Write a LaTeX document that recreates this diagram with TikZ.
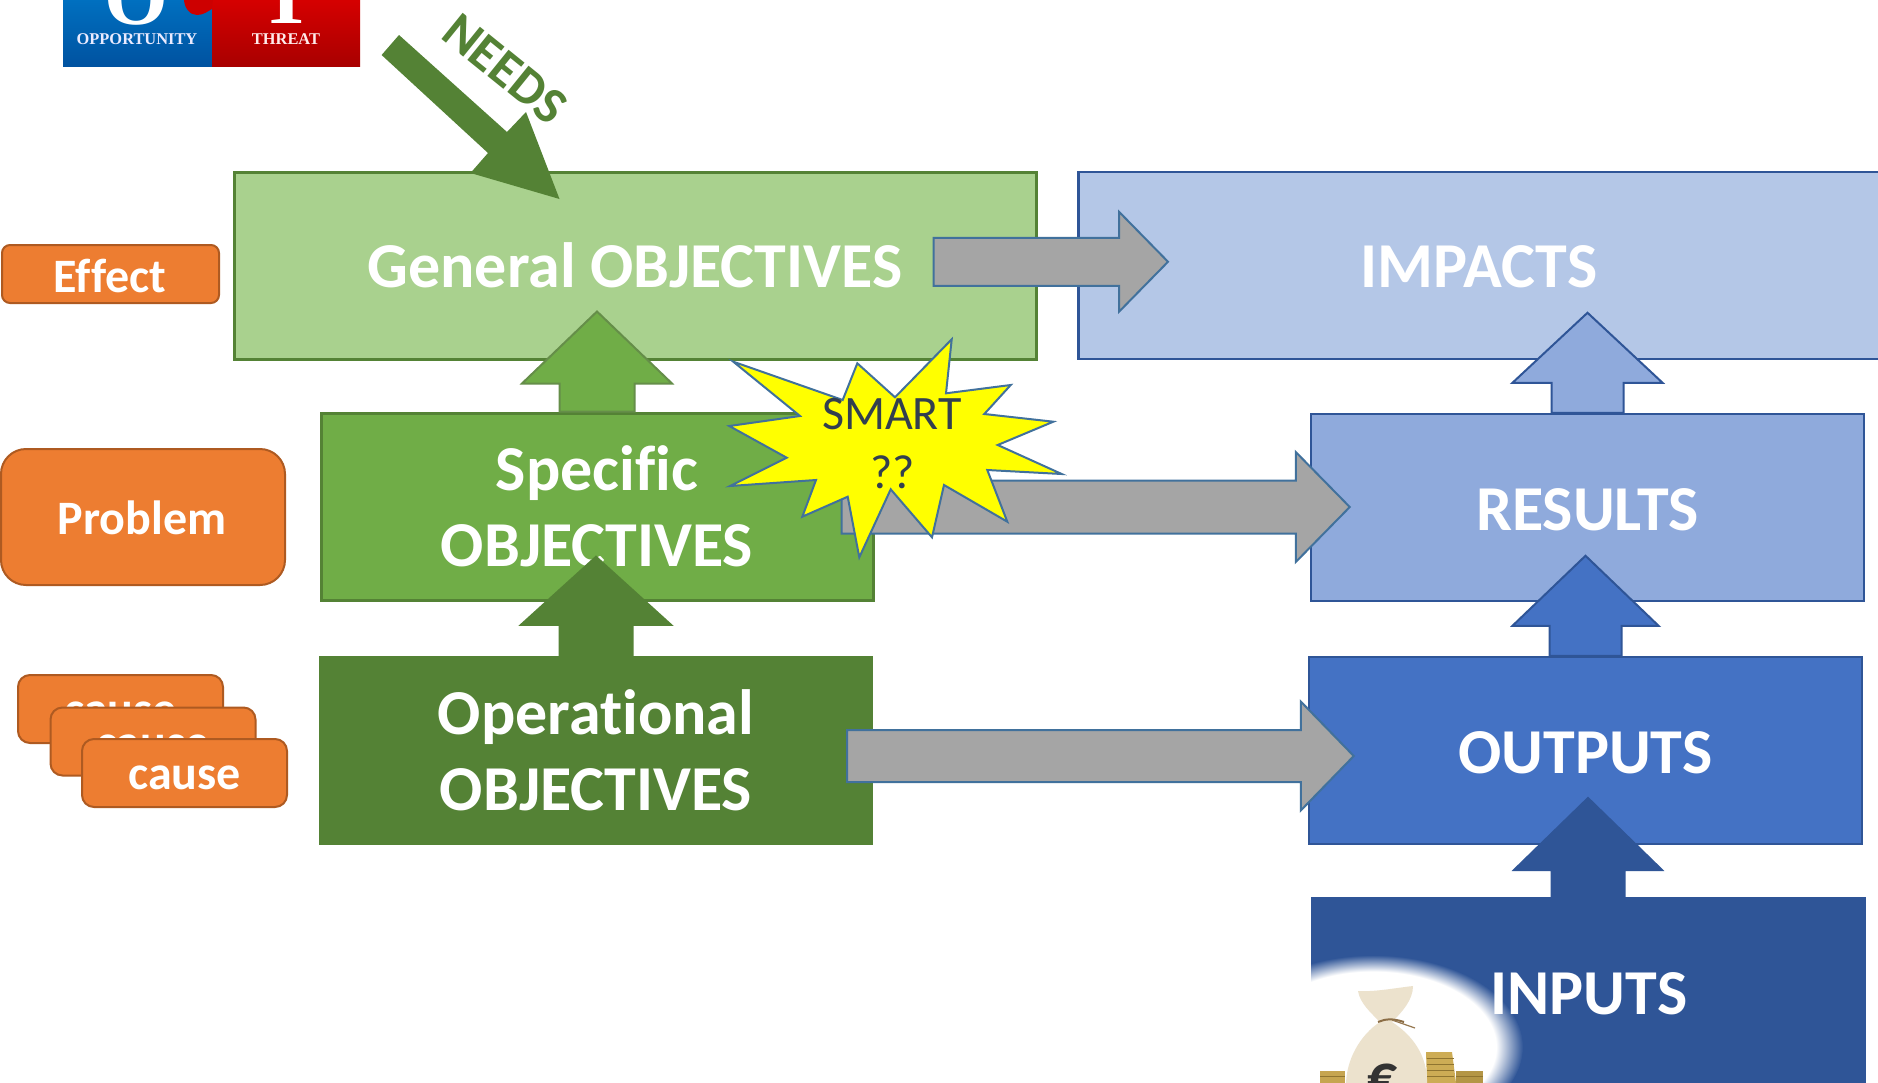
\documentclass[tikz,border=0pt]{standalone}
\usepackage{fontspec}
\setmainfont{Carlito}[Ligatures=CommonOff]
\newfontfamily\logofont{Liberation Serif}
\usetikzlibrary{calc}
\definecolor{genfill}{HTML}{A9D18E}
\definecolor{speck}{HTML}{70AD47}
\definecolor{dgreen}{HTML}{548235}
\definecolor{impfill}{HTML}{B4C7E7}
\definecolor{resfill}{HTML}{8FAADC}
\definecolor{outfill}{HTML}{4472C4}
\definecolor{dblue}{HTML}{2F5597}
\definecolor{orfill}{HTML}{ED7D31}
\definecolor{ordraw}{HTML}{AE5A21}
\definecolor{gfill}{HTML}{A5A5A5}
\definecolor{gline}{HTML}{41719C}
\definecolor{smarttxt}{HTML}{323F4F}
\definecolor{starfill}{HTML}{FFFF00}
\definecolor{lbluet}{HTML}{0070C0}
\definecolor{lblueb}{HTML}{0052A0}
\definecolor{lredt}{HTML}{D60000}
\definecolor{lredb}{HTML}{A80000}
\definecolor{ltab}{HTML}{CD0000}
\definecolor{coina}{HTML}{C6A550}
\definecolor{coinb}{HTML}{CDAC55}
\definecolor{coinc}{HTML}{B49646}
\definecolor{coinl}{HTML}{8F7430}
\definecolor{bagc}{HTML}{ECE2CD}
\definecolor{tiea}{HTML}{8C6E46}
\definecolor{tieb}{HTML}{967850}
\pgfdeclareradialshading{glowshade}{\pgfpoint{0bp}{0bp}}{color(0bp)=(white); color(20.5bp)=(white); color(25bp)=(dblue); color(100bp)=(dblue)}
\tikzset{
  bigtxt/.style={text=white,font=\fontsize{64}{76}\selectfont\bfseries,align=center},
  boxg/.style={draw=dgreen,line width=3pt,inner sep=0pt},
  boxb/.style={draw=dblue,line width=2.5pt,inner sep=0pt},
  orbox/.style={draw=ordraw,fill=orfill,line width=2pt,rounded corners=#1,inner sep=0pt,text=white,font=\fontsize{48}{56}\selectfont\bfseries},
  causebox/.style={orbox=12pt,text height=40pt,text depth=7pt},
  ortxt/.style={text=white,font=\fontsize{48}{56}\selectfont\bfseries,inner sep=0pt},
  smartxt/.style={inner sep=0pt,text=smarttxt,font=\fontsize{48}{56}\selectfont},
  logobig/.style={anchor=base,inner sep=0pt,text=white,font=\logofont\fontsize{82}{82}\selectfont\bfseries},
  logosmall/.style={inner sep=0pt,font=\logofont\fontsize{16.4}{18}\selectfont\bfseries},
  upa/.style={line width=2pt,line join=miter},
  grayarrow/.style={draw=gline,fill=gfill,line width=2pt,line join=miter},
}
% style, base coordinate, length, head length, half shaft, half head
\newcommand{\upblock}[6]{\draw[upa,#1] let \p1=(#2) in
  ({\x1-#5pt},\y1) -- ({\x1-#5pt},{\y1+#3pt-#4pt}) -- ({\x1-#6pt},{\y1+#3pt-#4pt}) -- (\x1,{\y1+#3pt})
  -- ({\x1+#6pt},{\y1+#3pt-#4pt}) -- ({\x1+#5pt},{\y1+#3pt-#4pt}) -- ({\x1+#5pt},\y1) -- cycle;}
% start coordinate, tip coordinate, half shaft, half head, head length
\newcommand{\rightblock}[5]{\draw[grayarrow] let \p1=(#1), \p2=(#2) in
  (\x1,{\y2+#3pt}) -- ({\x2-#5pt},{\y2+#3pt}) -- ({\x2-#5pt},{\y2+#4pt}) -- (\x2,\y2)
  -- ({\x2-#5pt},{\y2-#4pt}) -- ({\x2-#5pt},{\y2-#3pt}) -- (\x1,{\y2-#3pt}) -- cycle;}
\begin{document}
\begin{tikzpicture}[x=1pt,y=-1pt]
\useasboundingbox (0,0) rectangle (1878,1082);
\clip (0,0) rectangle (1878,1082);
\fill[white] (0,0) rectangle (1878,1082);
% logo
\shade[top color=lbluet,bottom color=lblueb] (63,-1) rectangle (212,66.5);
\shade[top color=lredt,bottom color=lredb] (212,-1) rectangle (360,66.5);
\fill[ltab] (184,-1) .. controls (184,8) and (190,15) .. (197,15) .. controls (204,15) and (208,11) .. (212,9) -- (213,-1) -- cycle;
\node[logobig] (logoO) at (136,24) {O};
\node[logobig] (logoT) at (287,23) {T};
\node[logosmall,text=white!92!blue] (opp) at (137,39) {OPPORTUNITY};
\node[logosmall,text=white!92!red] (thr) at (286,39) {THREAT};
% left column
\node[orbox=8pt,minimum width=217pt,minimum height=58pt] (effect) at (110.5,274) {};
\node[ortxt] (effectt) at (110,276) {Effect};
\node[orbox=25pt,minimum width=284pt,minimum height=136pt] (problem) at (143,517) {};
\node[ortxt] (problemt) at (142,518) {Problem};
\node[causebox,minimum width=205pt,minimum height=68pt] (c1) at (120.5,709) {cause};
\node[causebox,minimum width=205pt,minimum height=68pt] (c2) at (153,741.5) {cause};
\node[causebox,minimum width=205pt,minimum height=68pt] (c3) at (184.5,773) {cause};
% objective boxes
\node[boxg,fill=genfill,minimum width=802pt,minimum height=187pt,bigtxt,text height=44.2pt,text depth=0pt] (general) at (635,265.5) {General OBJECTIVES};
\node[boxb,fill=impfill,anchor=north west,minimum width=900pt,minimum height=187pt] (impacts) at (1077,170.5) {};
\node[bigtxt,inner sep=0pt] (impactst) at (1479,266.5) {IMPACTS};
\node[boxg,fill=speck,minimum width=552pt,minimum height=187pt,bigtxt] (specific) at (597,506.5) {Specific\\OBJECTIVES};
\node[fill=dgreen,inner sep=0pt,minimum width=554pt,minimum height=189pt,bigtxt] (operational) at (596,750.5) {Operational\\OBJECTIVES};
\node[boxb,fill=resfill,minimum width=553pt,minimum height=187pt,bigtxt,text height=46pt,text depth=0pt] (results) at (1587.5,507.5) {RESULTS};
\node[boxb,fill=outfill,minimum width=553pt,minimum height=187pt,bigtxt,text height=46pt,text depth=0pt] (outputs) at (1585.5,750.5) {OUTPUTS};
\node[fill=dblue,inner sep=0pt,anchor=north west,minimum width=555pt,minimum height=220pt] (inputs) at (1311,897) {};
% glow and money bag
\begin{scope}
\clip (1311,897) rectangle (1878,1082);
\shade[shading=glowshade] (1373,1047) ellipse [x radius=150pt,y radius=92pt];
\end{scope}
\fill[coina] (1320,1071) rectangle (1345,1083);
\fill[coinb] (1426,1052) -- (1452,1052) -- (1456,1083) -- (1427,1083) -- cycle;
\fill[coinc] (1456,1071) rectangle (1483,1083);
\foreach \yy in {1058,1064,1070,1076}{\draw[coinl,line width=.8pt] (1427,\yy) -- (1454,\yy);}
\foreach \yy in {1076}{\draw[coinl,line width=.8pt] (1320,\yy) -- (1345,\yy);\draw[coinl,line width=.8pt] (1456,\yy) -- (1483,\yy);}
\fill[bagc] (1358,991) .. controls (1375,992) and (1395,988) .. (1413,986) .. controls (1413,1000) and (1402,1012) .. (1392,1022)
  .. controls (1412,1035) and (1428,1055) .. (1427,1085) -- (1346,1085) .. controls (1346,1060) and (1360,1035) .. (1380,1022) .. controls (1370,1012) and (1360,1003) .. (1358,991) -- cycle;
\draw[tiea,line width=2pt] (1378,1022) .. controls (1385,1019) and (1392,1018) .. (1404,1022);
\draw[tieb,line width=1.2pt] (1392,1020) -- (1415,1028);
\node[inner sep=0pt,text=black!80,font=\fontsize{60}{60}\selectfont\bfseries] (euro) at (1383,1080) {€};
\node[bigtxt,inner sep=0pt] (inputst) at (1589,994) {INPUTS};
% up arrows
\upblock{draw=dgreen!90!white,fill=speck}{specific.north}{100}{72}{37.5}{75}
\upblock{draw=dgreen,fill=dgreen}{operational.north}{99}{68}{36.5}{75}
\upblock{draw=dblue,fill=resfill}{results.north}{100}{70}{36}{75}
\upblock{draw=dblue,fill=outfill}{outputs.north}{100}{70}{36}{73}
\coordinate (inputsa) at (1588,897);
\upblock{draw=dblue,fill=dblue}{inputsa}{99}{72}{36.5}{74}
% gray arrows
\rightblock{[xshift=-104pt]general.east}{[xshift=91pt,yshift=3.5pt]impacts.west}{24}{50}{49}
\rightblock{[xshift=-33pt]specific.east}{[xshift=40pt,yshift=.5pt]results.west}{26.5}{55}{54}
\rightblock{[xshift=-26pt]operational.east}{[xshift=46pt,yshift=-5.5pt]outputs.west}{26}{54.5}{53}
% needs arrow
\coordinate (needsa) at (399,35);
\coordinate (needsb) at (381.6,55);
\coordinate (needsc) at (488,153);
\coordinate (needsd) at (470.5,173);
\coordinate (needse) at (559.5,199);
\coordinate (needsf) at (526,112);
\coordinate (needsg) at (507,132);
\fill[dgreen] (needsa) -- (needsb) -- (needsc) -- (needsd) -- (needse) -- (needsf) -- (needsg) -- cycle;
\node[rotate=-39,inner sep=0pt,text=dgreen,font=\fontsize{52}{56}\selectfont\bfseries] (needs) at (505,69) {NEEDS};
% star
\draw[draw=gline,fill=starfill,line width=2pt,line join=miter]
 (733.3,361.7) -- (842.7,400) -- (857.3,363.3) -- (895,397.3) -- (951.7,339.3) -- (946,393.3) -- (1010.7,385) -- (984.3,414) -- (1053.3,421.7)
 -- (997.7,445) -- (1061.7,474) -- (987.3,470) -- (1007.3,521.7) -- (944,485) -- (932,537.3) -- (890.7,489.3) -- (859.3,557.3) -- (847.7,496.7)
 -- (802.3,516.7) -- (816,480) -- (730,486) -- (786.7,457.7) -- (729.3,426) -- (800,416) -- cycle;
\node[smartxt] (smart) at (892,414) {SMART};
\node[smartxt] (qq) at (893,472) {??};
\end{tikzpicture}
\end{document}
